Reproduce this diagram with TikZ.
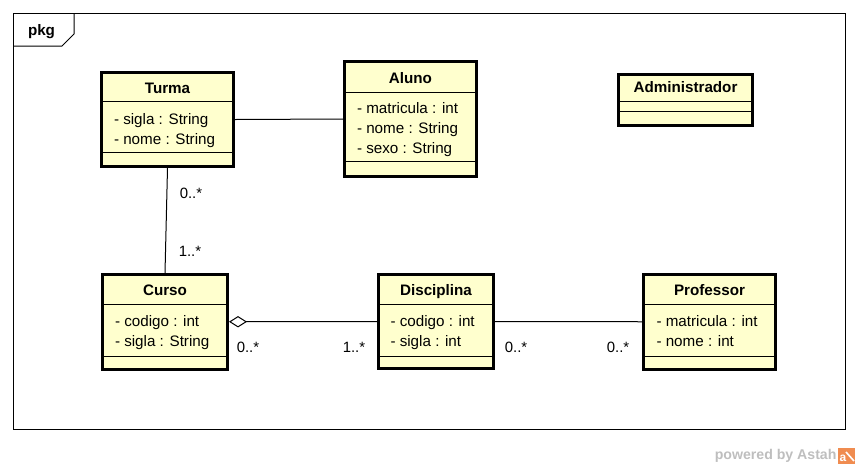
\documentclass[tikz,border=0pt]{standalone}
\usepackage{fontspec}
\setmainfont{Liberation Sans}
\usetikzlibrary{arrows.meta,fit}

\definecolor{classfill}{RGB}{255,255,206}
\definecolor{astahgray}{RGB}{190,190,190}
\definecolor{astahorange}{RGB}{240,140,80}

\tikzset{every picture/.style={line width=0.75pt}}
\tikzset{
  classbox/.style={draw, line width=2.25pt, fill=classfill, inner sep=0pt},
  classname/.style={font=\bfseries\fontsize{11.4}{13}\selectfont, anchor=base, inner sep=0pt},
  classattr/.style={font=\fontsize{11.4}{13}\selectfont, anchor=base west, inner sep=0pt},
  mult/.style={font=\fontsize{11.2}{13}\selectfont, anchor=base, inner sep=0pt},
  aggr/.style={arrows={{Diamond[fill=white,length=13.5pt,width=8.5pt]}-}},
}

\begin{document}
\begin{tikzpicture}[x=0.75pt,y=0.75pt,yscale=-1,xscale=1]
	\useasboundingbox (0,0) rectangle (858,469);

	%Shape: Frame [pkg]
	\draw (13,13) rectangle (845,429);
	\draw (13,46) -- (62,46) -- (74,34) -- (74,13);
	% Text Node
	\node[classname, anchor=base west] (pkg) at (27.5,35) {pkg};

	%Shape: Class [Turma]
	\node[classbox, fit={(101.5,72.5) (233.5,166.5)}] (turma) {};
	\draw (101.5,101.5) -- (233.5,101.5);
	\draw (101.5,152) -- (233.5,152);
	%Shape: Class [Aluno]
	\node[classbox, fit={(344.5,61.5) (476.5,176.5)}] (aluno) {};
	\draw (344.5,92) -- (476.5,92);
	\draw (344.5,161.5) -- (476.5,161.5);
	%Shape: Class [Administrador]
	\node[classbox, fit={(618.5,74) (752.5,125.5)}] (admin) {};
	\draw (618.5,101.5) -- (752.5,101.5);
	\draw (618.5,111.5) -- (752.5,111.5);
	%Shape: Class [Curso]
	\node[classbox, fit={(102.5,274.5) (227.5,369)}] (curso) {};
	\draw (102.5,304.5) -- (227.5,304.5);
	\draw (102.5,356) -- (227.5,356);
	%Shape: Class [Disciplina]
	\node[classbox, fit={(378.5,274.5) (493.5,368.5)}] (disciplina) {};
	\draw (378.5,304.5) -- (493.5,304.5);
	\draw (378.5,356) -- (493.5,356);
	%Shape: Class [Professor]
	\node[classbox, fit={(643.5,274.5) (775.5,369)}] (professor) {};
	\draw (643.5,304.5) -- (775.5,304.5);
	\draw (643.5,356) -- (775.5,356);

	%Straight Lines [Turma - Aluno]
	\draw (turma.east) -- (aluno.west);
	%Straight Lines [Turma - Curso]
	\draw (turma.south) -- (curso.north);
	%Straight Lines [Curso <>- Disciplina]
	\draw[aggr] (curso.east) -- (disciplina.west);
	%Straight Lines [Disciplina - Professor]
	\draw (disciplina.east) -- (professor.west);

	% Text Node
	\node[classname] (turmaName) at (167.5,93) {Turma};
	\node[classattr] (turmaSigla) at (113.5,124) {- sigla : String};
	\node[classattr] (turmaNome) at (113.5,144) {- nome : String};
	% Text Node
	\node[classname] (alunoName) at (410.5,83) {Aluno};
	\node[classattr] (alunoMatricula) at (356.5,113) {- matricula : int};
	\node[classattr] (alunoNome) at (356.5,133) {- nome : String};
	\node[classattr] (alunoSexo) at (356.5,153) {- sexo : String};
	% Text Node
	\node[classname] (adminName) at (685.5,92) {Administrador};
	% Text Node
	\node[classname] (cursoName) at (165,295.5) {Curso};
	\node[classattr] (cursoCodigo) at (114.5,326.5) {- codigo : int};
	\node[classattr] (cursoSigla) at (114.5,346) {- sigla : String};
	% Text Node
	\node[classname] (disciplinaName) at (436,295.5) {Disciplina};
	\node[classattr] (disciplinaCodigo) at (390,326.5) {- codigo : int};
	\node[classattr] (disciplinaSigla) at (390,346) {- sigla : int};
	% Text Node
	\node[classname] (professorName) at (709.5,295.5) {Professor};
	\node[classattr] (professorMatricula) at (656,326.5) {- matricula : int};
	\node[classattr] (professorNome) at (656,346) {- nome : int};

	% Text Node
	\node[mult] (multTurma) at (191,198) {0..*};
	\node[mult] (multCursoTop) at (190,256.5) {1..*};
	\node[mult] (multCurso) at (248,352) {0..*};
	\node[mult] (multDiscLeft) at (354,352) {1..*};
	\node[mult] (multDiscRight) at (516,352) {0..*};
	\node[mult] (multProfessor) at (618,352) {0..*};

	% Text Node
	\node[classname, anchor=base east, text=astahgray, font=\bfseries\fontsize{10.6}{12}\selectfont] (powered) at (837,459) {powered by Astah};
	%Shape: Logo
	\fill[astahorange] (838,448) rectangle (855,464);
	\node[classname, text=white, font=\bfseries\fontsize{9}{10}\selectfont] (logo) at (843,461) {a};
	\draw[white, line width=1.2pt] (846,452) -- (854,461);

\end{tikzpicture}
\end{document}
